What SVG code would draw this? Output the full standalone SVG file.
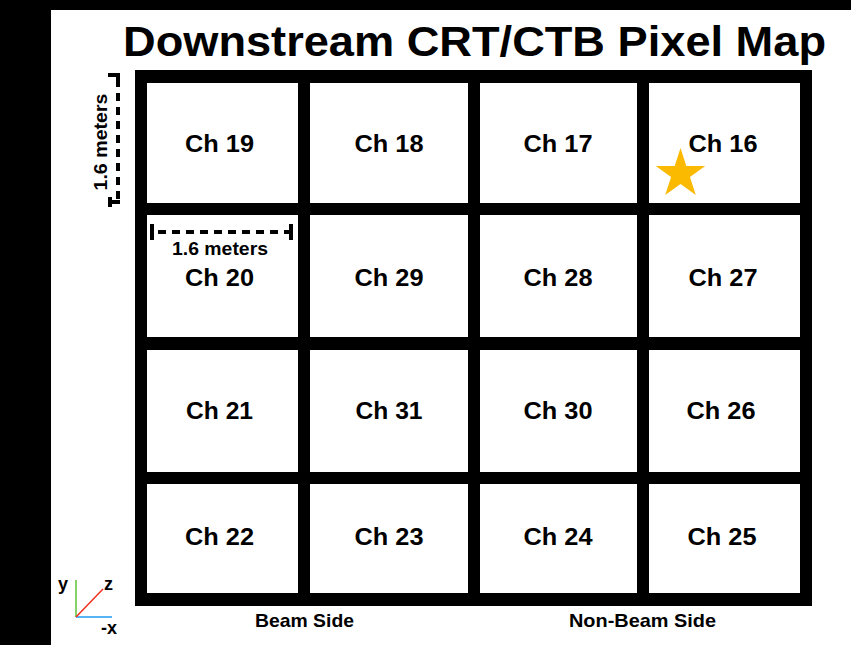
<svg xmlns="http://www.w3.org/2000/svg" width="851" height="645" viewBox="0 0 851 645">
<style>
text{font-family:"Liberation Sans",Arial,Helvetica,sans-serif;font-weight:bold;fill:#000}
.cell{fill:#fff}
.lbl{font-size:24px;text-anchor:middle}
.dim{font-size:18px;text-anchor:middle}
.dash{stroke:#000;stroke-width:4;stroke-dasharray:8 6;fill:none}
.cap{stroke:#000;stroke-width:4;fill:none}
.ax{font-size:18px}
</style>
<rect x="0" y="0" width="851" height="645" fill="#000"/>
<rect x="51" y="10" width="800" height="635" fill="#fff"/>
<text x="474.5" y="56" font-size="42" text-anchor="middle" textLength="703" lengthAdjust="spacingAndGlyphs">Downstream CRT/CTB Pixel Map</text>
<g id="frame"><rect x="135" y="70" width="677" height="536" fill="#000"/></g>
<g id="ch19"><rect class="cell" x="147" y="83" width="151" height="120"/><text class="lbl" x="219.5" y="152" textLength="69" lengthAdjust="spacingAndGlyphs">Ch 19</text></g>
<g id="ch18"><rect class="cell" x="310" y="83" width="158" height="120"/><text class="lbl" x="389" y="152" textLength="69" lengthAdjust="spacingAndGlyphs">Ch 18</text></g>
<g id="ch17"><rect class="cell" x="480" y="83" width="157" height="120"/><text class="lbl" x="558" y="152" textLength="69" lengthAdjust="spacingAndGlyphs">Ch 17</text></g>
<g id="ch16"><rect class="cell" x="649" y="83" width="151" height="120"/><text class="lbl" x="723" y="152" textLength="69" lengthAdjust="spacingAndGlyphs">Ch 16</text>
<polygon fill="#FBBA00" points="680.5,148 686.34,165.97 705.23,165.97 689.94,177.07 695.78,195.03 680.5,183.93 665.22,195.03 671.06,177.07 655.77,165.97 674.66,165.97"/></g>
<g id="ch20"><rect class="cell" x="147" y="215" width="151" height="122"/><text class="lbl" x="219.5" y="286" textLength="69" lengthAdjust="spacingAndGlyphs">Ch 20</text></g>
<g id="ch29"><rect class="cell" x="310" y="215" width="158" height="122"/><text class="lbl" x="389" y="286" textLength="69" lengthAdjust="spacingAndGlyphs">Ch 29</text></g>
<g id="ch28"><rect class="cell" x="480" y="215" width="157" height="122"/><text class="lbl" x="558" y="286" textLength="69" lengthAdjust="spacingAndGlyphs">Ch 28</text></g>
<g id="ch27"><rect class="cell" x="649" y="215" width="151" height="122"/><text class="lbl" x="723" y="286" textLength="69" lengthAdjust="spacingAndGlyphs">Ch 27</text></g>
<g id="ch21"><rect class="cell" x="147" y="350" width="151" height="122"/><text class="lbl" x="219.5" y="419" textLength="67" lengthAdjust="spacingAndGlyphs">Ch 21</text></g>
<g id="ch31"><rect class="cell" x="310" y="350" width="158" height="122"/><text class="lbl" x="389" y="419" textLength="67" lengthAdjust="spacingAndGlyphs">Ch 31</text></g>
<g id="ch30"><rect class="cell" x="480" y="350" width="157" height="122"/><text class="lbl" x="558" y="419" textLength="69" lengthAdjust="spacingAndGlyphs">Ch 30</text></g>
<g id="ch26"><rect class="cell" x="649" y="350" width="151" height="122"/><text class="lbl" x="721" y="419" textLength="69" lengthAdjust="spacingAndGlyphs">Ch 26</text></g>
<g id="ch22"><rect class="cell" x="147" y="484" width="151" height="109"/><text class="lbl" x="219.5" y="545" textLength="69" lengthAdjust="spacingAndGlyphs">Ch 22</text></g>
<g id="ch23"><rect class="cell" x="310" y="484" width="158" height="109"/><text class="lbl" x="389" y="545" textLength="69" lengthAdjust="spacingAndGlyphs">Ch 23</text></g>
<g id="ch24"><rect class="cell" x="480" y="484" width="157" height="109"/><text class="lbl" x="558" y="545" textLength="69" lengthAdjust="spacingAndGlyphs">Ch 24</text></g>
<g id="ch25"><rect class="cell" x="649" y="484" width="151" height="109"/><text class="lbl" x="722" y="545" textLength="69" lengthAdjust="spacingAndGlyphs">Ch 25</text></g>
<g id="connectors">
<line class="dash" x1="118" y1="79" x2="118" y2="201"/>
<polyline class="cap" points="108,75 120,75 118,75 118,83"/>
<line class="cap" x1="110" y1="197" x2="110" y2="207"/>
<line class="cap" x1="108" y1="202" x2="120" y2="202"/>
<text class="dim" transform="translate(107,142) rotate(-90)" x="0" y="0" textLength="97" lengthAdjust="spacingAndGlyphs">1.6 meters</text>
<line class="cap" x1="152" y1="224" x2="152" y2="240"/>
<line class="cap" x1="291" y1="224" x2="291" y2="240"/>
<line class="dash" x1="158" y1="232" x2="291" y2="232"/>
<text class="dim" x="220" y="255" textLength="96" lengthAdjust="spacingAndGlyphs">1.6 meters</text>
</g>
<g id="axes">
<line x1="76" y1="617" x2="76" y2="580" stroke="#5BC236" stroke-width="1.5"/>
<line x1="76" y1="617" x2="112" y2="617" stroke="#1E9BF0" stroke-width="1.5"/>
<line x1="76" y1="617" x2="103" y2="589" stroke="#F0301E" stroke-width="1.5"/>
<text class="ax" x="58" y="590">y</text>
<text class="ax" x="104" y="590">z</text>
<text class="ax" x="101" y="634">-x</text>
</g>
<text x="304.5" y="627" font-size="19" text-anchor="middle" textLength="99" lengthAdjust="spacingAndGlyphs">Beam Side</text>
<text x="642.5" y="627" font-size="19" text-anchor="middle" textLength="147" lengthAdjust="spacingAndGlyphs">Non-Beam Side</text>
</svg>
